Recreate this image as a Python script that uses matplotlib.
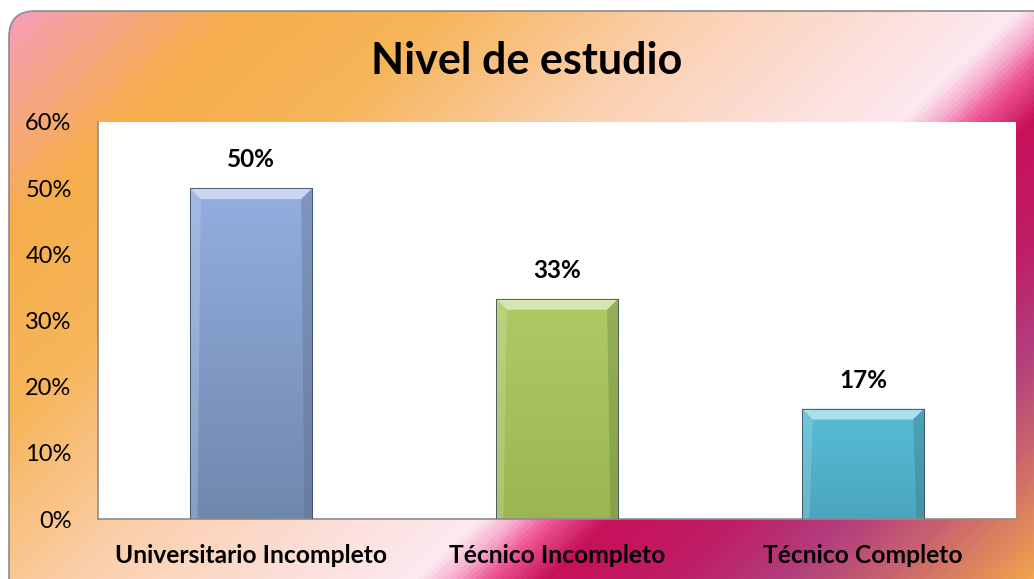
import numpy as np
import matplotlib
matplotlib.use("Agg")
import matplotlib.pyplot as plt
from matplotlib.colors import LinearSegmentedColormap, to_rgb
from matplotlib.patches import FancyBboxPatch, Polygon

plt.rcParams['font.family'] = ['Lato', 'DejaVu Sans']

title = "Nivel de estudio"
categories = ["Universitario Incompleto", "Técnico Incompleto", "Técnico Completo"]
values = [0.50, 0.333, 0.167]
labels = ["50%", "33%", "17%"]
y_ticks = [0, 0.1, 0.2, 0.3, 0.4, 0.5, 0.6]
bar_top_colors = ["#93afe0", "#aecb66", "#58bdd6"]
bar_bottom_colors = ["#7088ae", "#9cb553", "#4aa6be"]

W, H = 1034, 579
fig = plt.figure(figsize=(W / 100, H / 100), dpi=100)

# background with the diagonal gradient, clipped to a rounded frame
bg = fig.add_axes([0, 0, 1, 1])
bg.set_xlim(0, W)
bg.set_ylim(H, 0)
bg.axis("off")
k = 1.06
umax = W + k * H
stops_px = [(0, "#f79cc4"), (250, "#f6ae4c"), (450, "#f7b55a"), (700, "#fbd0ae"),
            (900, "#fcdfda"), (1030, "#fce9f0"), (1065, "#f7b0cf"), (1100, "#ef5a98"),
            (1160, "#c8105a"), (1290, "#bf1e66"), (1400, "#b23e7e"), (1500, "#c9626e"),
            (1590, "#e08a5c"), (umax, "#f2a34c")]
cmap = LinearSegmentedColormap.from_list("bg", [(p / umax, c) for p, c in stops_px])
xx, yy = np.meshgrid(np.arange(W), np.arange(H))
u = (xx + k * yy) / umax
frame = FancyBboxPatch((9, 11), W + 20, H + 20, boxstyle="round,pad=0,rounding_size=26",
                       facecolor="none", edgecolor="#8c8c8c", linewidth=1.2, zorder=3)
bg.add_patch(frame)
im = bg.imshow(u, cmap=cmap, extent=[0, W, H, 0], aspect="auto", zorder=1, vmin=0, vmax=1)
im.set_clip_path(frame)

fig.text(527 / W, 1 - 61 / H, title, ha="center", va="center",
         fontsize=31, fontweight="bold", color="black")

# plot area
ax = fig.add_axes([98 / W, 1 - 519 / H, (1016 - 98) / W, (519 - 122) / H])
ax.set_facecolor("white")
x = np.arange(len(categories))
bars = ax.bar(x, values, width=0.40, color="none", edgecolor="#3a4a5a", linewidth=0.6, zorder=3)
ax.set_xlim(-0.5, len(categories) - 0.5)
ax.set_ylim(0, 0.6)

bev_y = 0.6 / 397 * 11
bev_x = 1 / 306 * 11
for rect, c_top, c_bot in zip(bars, bar_top_colors, bar_bottom_colors):
    x0, w, h = rect.get_x(), rect.get_width(), rect.get_height()
    grad = np.linspace(0, 1, 64)[:, None, None]
    img = (1 - grad) * np.array(to_rgb(c_top)) + grad * np.array(to_rgb(c_bot))
    gi = ax.imshow(img, extent=[x0, x0 + w, 0, h], aspect="auto", zorder=2)
    gi.set_clip_path(rect)
    top = np.array(to_rgb(c_top))
    light = top + (1 - top) * 0.5
    dark = top * 0.6
    ax.add_patch(Polygon([(x0, h), (x0 + w, h), (x0 + w - bev_x, h - bev_y), (x0 + bev_x, h - bev_y)],
                         closed=True, facecolor=light, edgecolor="none", zorder=2.5))
    ax.add_patch(Polygon([(x0 + w, h), (x0 + w, 0), (x0 + w - bev_x * 0.7, 0), (x0 + w - bev_x, h - bev_y)],
                         closed=True, facecolor=dark, edgecolor="none", alpha=0.35, zorder=2.5))
    ax.add_patch(Polygon([(x0, h), (x0, 0), (x0 + bev_x * 0.7, 0), (x0 + bev_x, h - bev_y)],
                         closed=True, facecolor=light, edgecolor="none", alpha=0.3, zorder=2.5))

for xi, v, lab in zip(x, values, labels):
    ax.annotate(lab, (xi, v), xytext=(0, 12), textcoords="offset points", ha="center", va="bottom",
                fontsize=17.5, fontweight="bold", color="black")

ax.set_yticks(y_ticks)
ax.set_yticklabels([f"{int(round(t * 100))}%" for t in y_ticks], fontsize=17, color="black")
ax.set_xticks(x)
ax.set_xticklabels(categories, fontsize=17.7, fontweight="bold", color="black")
ax.tick_params(axis="y", length=0, pad=19)
ax.tick_params(axis="x", length=0, pad=18)
for side in ["top", "right"]:
    ax.spines[side].set_visible(False)
for side in ["left", "bottom"]:
    ax.spines[side].set_color("#8c8c8c")
    ax.spines[side].set_linewidth(1.2)

fig.savefig("out.png", dpi=100)
